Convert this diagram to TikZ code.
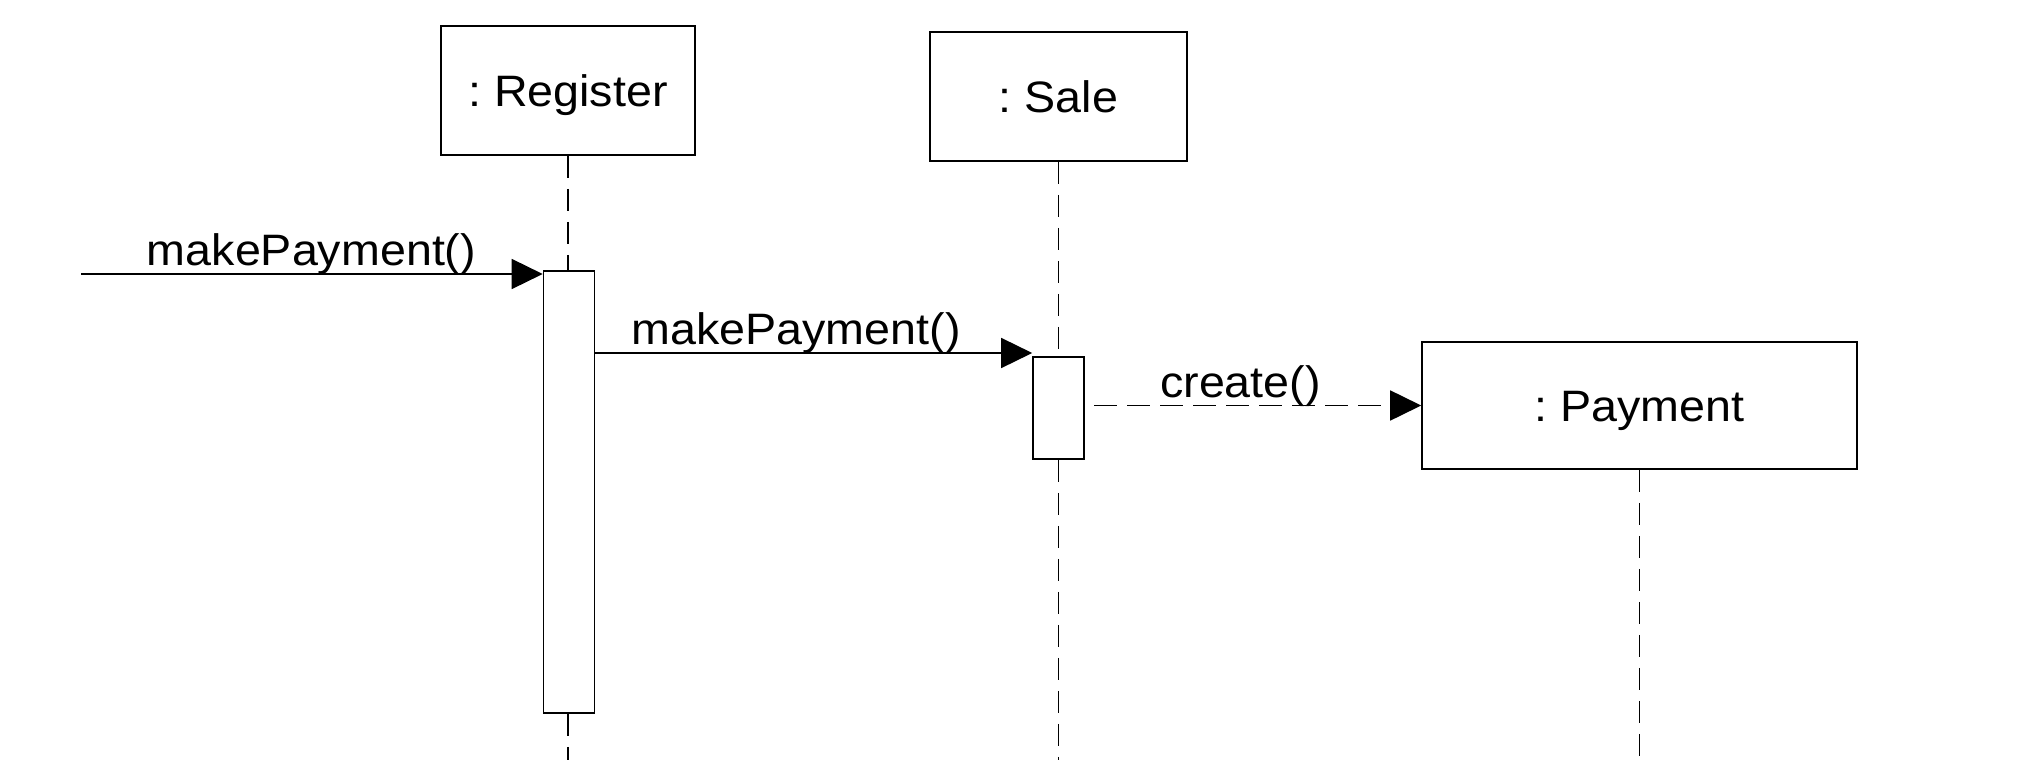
\documentclass[tikz,border=0pt]{standalone}
\usepackage{fontspec}
\setmainfont{Liberation Sans}[FakeStretch=1.06]
\frenchspacing
\usetikzlibrary{arrows.meta}
\begin{document}
\begin{tikzpicture}[x=0.5pt,y=-0.5pt,
  every node/.style={font=\fontsize{22pt}{26pt}\selectfont},
  objbox/.style={draw,line width=0.8pt,inner sep=0pt,text height=15.75pt,text depth=0pt,anchor=center},
  actbox/.style={draw,line width=0.8pt,fill=white,inner sep=0pt,anchor=center},
  lifeline/.style={line width=0.75pt,dash pattern=on 11pt off 5.5pt},
  msg/.style={line width=0.75pt,-{Triangle[length=15.5pt,width=15pt]}},
  dmsg/.style={line width=0.85pt,dash pattern=on 11.5pt off 5pt,-{Triangle[length=15.5pt,width=15pt]}},
  lbl/.style={anchor=base,inner sep=0pt}]
\useasboundingbox (0,0) rectangle (2036,760);
% objects
\node[objbox,minimum width=127pt,minimum height=64.5pt] (reg) at (568,90.5) {: Register};
\node[objbox,minimum width=128.5pt,minimum height=64.5pt] (sale) at (1058.5,96.5) {: Sale};
\node[objbox,minimum width=217.5pt,minimum height=63.5pt] (pay) at (1639.5,405.5) {: Payment};
% activations
\node[actbox,minimum width=25.5pt,minimum height=221pt] (actR) at (569,492) {};
\node[actbox,minimum width=25.5pt,minimum height=51pt] (actS) at (1058.5,408) {};
% lifeline end points
\coordinate (regEnd) at (568,760);
\coordinate (saleEnd) at (1058.5,760);
\coordinate (payEnd) at (1639.5,756);
\draw[lifeline] (reg.south) -- (reg.south |- actR.north);
\draw[lifeline] (reg.south |- actR.south) -- (regEnd);
\draw[lifeline] (sale.south) -- (actS.north);
\draw[lifeline] (actS.south) -- (saleEnd);
\draw[lifeline] (pay.south) -- (payEnd);
% messages
\coordinate (in1) at (81,274);
\coordinate (m2) at (595,353);
\coordinate (c1) at (1094,405.5);
\draw[msg] (in1) -- (in1 -| actR.west);
\draw[msg] (m2) -- (m2 -| actS.west);
\draw[dmsg] (c1) -- (pay.west);
% labels
\node[lbl] (l1) at (311.5,265) {makePayment()};
\node[lbl] (l2) at (796,344) {makePayment()};
\node[lbl] (l3) at (1240.5,397) {create()};
\end{tikzpicture}
\end{document}
